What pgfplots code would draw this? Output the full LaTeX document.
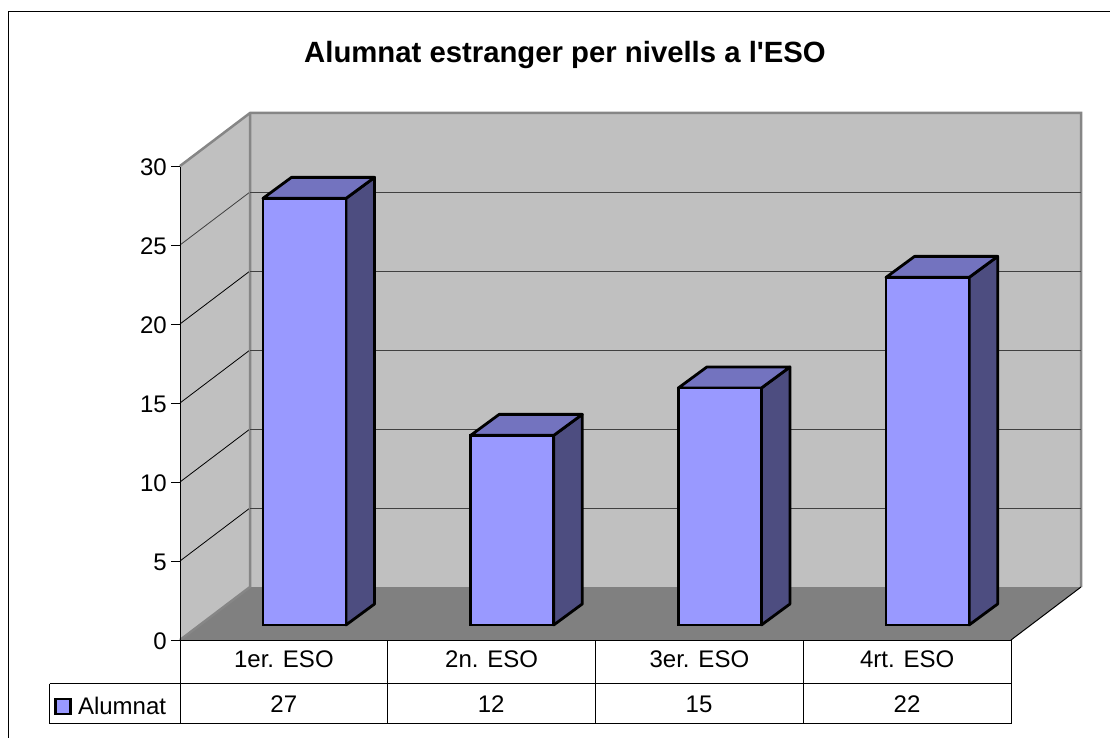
\documentclass[border=0pt]{standalone}
\usepackage{pgfplots}
\pgfplotsset{compat=1.18}
\usepackage{fontspec}
\setmainfont{Liberation Sans}
\newfontfamily\ttlfont{Liberation Sans}
\definecolor{wall}{HTML}{C0C0C0}
\definecolor{floorc}{HTML}{808080}
\definecolor{edgec}{HTML}{868686}
\definecolor{gridc}{HTML}{404040}
\definecolor{barfront}{HTML}{9999FF}
\definecolor{bartop}{HTML}{7373BF}
\definecolor{barside}{HTML}{4D4D80}
\newcommand{\fs}[1]{\fontsize{#1}{#1}\selectfont}
\pgfplotsset{
  base/.style={scale only axis, anchor=south west, clip=false},
}
% top and side faces of a bar: category, value (units: 1 category = 207.7px, 1 value unit = 15.8px)
\newcommand{\barfaces}[2]{%
  \pgfmathsetmacro{\xl}{#1-0.2}\pgfmathsetmacro{\xr}{#1+0.2}%
  \pgfmathsetmacro{\xlb}{#1-0.0625}\pgfmathsetmacro{\xrb}{#1+0.3375}%
  \pgfmathsetmacro{\yt}{#2+1.33}%
  \addplot[draw=black,line width=2.8pt,line join=round,fill=barside] coordinates {(\xr,0) (\xrb,1.33) (\xrb,\yt) (\xr,#2) (\xr,0)} --cycle;
  \addplot[draw=black,line width=2.8pt,line join=round,fill=bartop] coordinates {(\xl,#2) (\xlb,\yt) (\xrb,\yt) (\xr,#2) (\xl,#2)} --cycle;
}
\begin{document}
\begin{tikzpicture}[x=1pt,y=1pt]
\path[use as bounding box] (0,0) rectangle (1110,738);
% ---------- backdrop, in picture pixels
\begin{axis}[base, at={(0pt,0pt)}, width=1110pt, height=738pt,
  xmin=0, xmax=1110, ymin=0, ymax=738, y dir=reverse, hide axis]
  \addplot[draw=none,fill=wall,forget plot] coordinates {(250,113) (1081,113) (1081,587) (250,587) (250,113)} --cycle;
  \addplot[draw=none,fill=wall,forget plot] coordinates {(180,166) (250,113) (250,587) (180,640) (180,166)} --cycle;
  \addplot[draw=none,fill=floorc,forget plot] coordinates {(180,640) (250,587) (1081,587) (1011,640) (180,640)} --cycle;
  % wall diagonals
  \addplot[gridc,line width=0.8pt] coordinates {(180,245) (250,192)};
  \addplot[black,line width=0.8pt] coordinates {(180,324) (250,271)};
  \addplot[black,line width=0.8pt] coordinates {(180,403) (250,350)};
  \addplot[black,line width=0.8pt] coordinates {(180,482) (250,429)};
  \addplot[black,line width=0.8pt] coordinates {(180,561) (250,508)};
  % wall edges
  \addplot[edgec,line width=2.5pt,line join=miter] coordinates {(180,166) (250,113) (1081,113) (1081,587)};
  \addplot[edgec,line width=2.5pt] coordinates {(250,113) (250,587) (180,640)};
  \addplot[black,line width=1pt] coordinates {(1011,640) (1081,587)};
  % outer frame
  \addplot[black,line width=1pt] coordinates {(8.5,738) (8.5,11.5) (1110,11.5)};
  % data table
  \addplot[black,line width=1pt] coordinates {(49.5,683.5) (1011,683.5)};
  \addplot[black,line width=1pt] coordinates {(49.5,723.5) (1011,723.5)};
  \addplot[black,line width=1pt] coordinates {(49.5,683.5) (49.5,723.5)};
  \addplot[black,line width=1pt] coordinates {(180,640) (180,723.5)};
  \addplot[black,line width=1pt] coordinates {(387.5,640) (387.5,723.5)};
  \addplot[black,line width=1pt] coordinates {(595,640) (595,723.5)};
  \addplot[black,line width=1pt] coordinates {(803,640) (803,723.5)};
  \addplot[black,line width=1pt] coordinates {(1011,640) (1011,723.5)};
  % legend key
  \addplot[draw=black,line width=2.8pt,fill=barfront] coordinates {(55.5,699) (70.5,699) (70.5,714) (55.5,714) (55.5,699)} --cycle;
  \node[anchor=base,font=\ttlfont\bfseries\fs{29.3}] at (axis cs:565,63) {Alumnat estranger per nivells a l'ESO};
  \node[anchor=base west,font=\fs{24}] at (axis cs:74.5,714) {Alumnat};
  \node[anchor=base,font=\fs{24}] at (axis cs:283.8,712) {27};
  \node[anchor=base,font=\fs{24}] at (axis cs:491.2,712) {12};
  \node[anchor=base,font=\fs{24}] at (axis cs:699,712) {15};
  \node[anchor=base,font=\fs{24}] at (axis cs:907,712) {22};
\end{axis}
% ---------- back wall gridlines
\begin{axis}[base, at={(250pt,151pt)}, width=831pt, height=474pt,
  xmin=0, xmax=1, ymin=0, ymax=30, ytick={5,10,15,20,25}, xtick=\empty,
  ymajorgrids, grid style={gridc,line width=0.9pt},
  axis line style={draw=none}, major tick length=0pt, yticklabels={}]
  \addplot[draw=none] coordinates {(0,0) (1,30)};
\end{axis}
% ---------- front plane: value axis and category labels
\begin{axis}[base, at={(180pt,97.3pt)}, width=831pt, height=474pt,
  xmin=-0.5, xmax=3.5, ymin=0, ymax=30,
  axis x line=bottom, axis y line=left,
  axis line style={black,line width=1pt,-},
  ytick={0,5,...,30}, xtick={0,1,2,3},
  xticklabels={1er. ESO,2n. ESO,3er. ESO,4rt. ESO},
  /pgf/number format/assume math mode=true,
  major tick length=9pt,
  tick style={black,line width=1pt},
  x tick style={draw=none},
  tick align=outside,
  yticklabel style={font=\fs{24},inner sep=0pt,xshift=-4pt,yshift=-0.8pt},
  xticklabel style={font=\fs{24},anchor=base,yshift=-17.5pt,inner sep=0pt}]
  \addplot[draw=none] coordinates {(0,0) (3,30)};
\end{axis}
% ---------- bars
\begin{axis}[base, at={(200.6pt,113pt)}, width=830.8pt, height=474pt,
  xmin=-0.5, xmax=3.5, ymin=0, ymax=30, hide axis]
  \barfaces{0}{27}
  \barfaces{1}{12}
  \barfaces{2}{15}
  \barfaces{3}{22}
  \addplot[ybar,bar width=83pt,draw=black,line width=2.8pt,fill=barfront] coordinates {(0,27) (1,12) (2,15) (3,22)};
\end{axis}
\end{tikzpicture}
\end{document}
